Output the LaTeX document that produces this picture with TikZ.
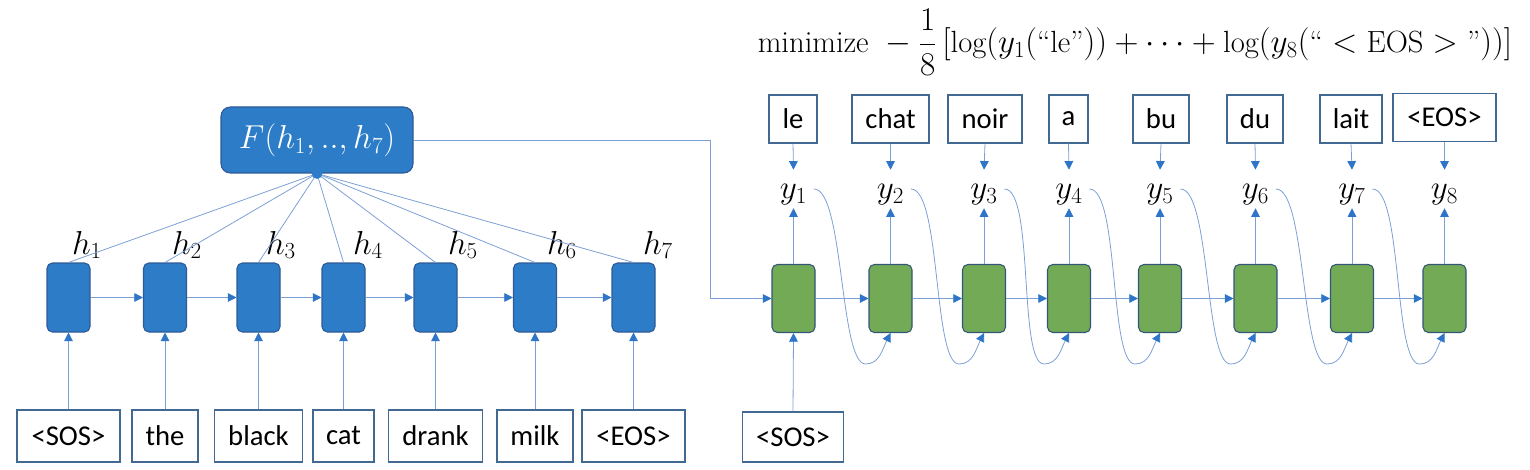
\documentclass[tikz,border=0pt]{standalone}
\usepackage{fontspec}
\usepackage{amsmath}
\newfontfamily\calibri{Carlito}
\usetikzlibrary{arrows.meta,calc}
\definecolor{encfill}{RGB}{44,124,200}
\definecolor{encdraw}{RGB}{46,90,150}
\definecolor{decfill}{RGB}{114,170,86}
\definecolor{decdraw}{RGB}{50,85,120}
\definecolor{linec}{RGB}{125,160,212}
\definecolor{tipc}{RGB}{46,117,200}
\definecolor{wordc}{RGB}{65,105,145}
\begin{document}
\begin{tikzpicture}[x=0.75pt,y=-0.75pt,
  enc/.style={draw=encdraw, fill=encfill, rounded corners=4pt, minimum width=32.25pt, minimum height=51.75pt, inner sep=0pt, line width=0.8pt},
  dec/.style={draw=decdraw, fill=decfill, rounded corners=4pt, minimum width=32.25pt, minimum height=51pt, inner sep=0pt, line width=0.8pt},
  wbox/.style={draw=wordc, fill=white, line width=0.8pt, minimum width=#1, minimum height=39pt, inner sep=0pt, font=\calibri\fontsize{21.5}{25}\selectfont},
  tbox/.style={wbox=#1, minimum height=36pt},
  hlab/.style={anchor=base, inner sep=0pt, font=\fontsize{23}{27}\selectfont},
  ylab/.style={anchor=base, inner sep=0pt, text height=21.75pt, text depth=6.75pt, font=\fontsize{24}{28}\selectfont},
  conn/.style={draw=linec, line width=0.6pt},
  flow/.style={conn, -{Triangle[length=6.5pt,width=6.5pt,color=tipc]}},
]
\useasboundingbox (0,0) rectangle (1530,470);

% loss formula
\node[inner sep=0pt, font=\fontsize{23}{27}\selectfont] (loss) at (1135,42)
  {$\text{minimize}\; -\dfrac{1}{8}\,[\log(y_1(\text{“le”})) + \cdots + \log(y_8(\text{“}<\mathrm{EOS}>\text{”}))]$};

% encoder
\foreach \i/\x in {1/68.5,2/165,3/258.5,4/343.5,5/435.5,6/535,7/633.5}
  \node[enc] (e\i) at (\x,297.5) {};

\node[wbox=77.25pt] (w1) at (68.5,436) {<SOS>};
\node[wbox=49.5pt]  (w2) at (165,436) {the};
\node[wbox=66pt]    (w3) at (258.5,436) {black};
\node[wbox=45.75pt] (w4) at (343.5,436) {cat};
\node[wbox=70.5pt]  (w5) at (435.5,436) {drank};
\node[wbox=57pt]    (w6) at (535,436) {milk};
\node[wbox=77.25pt] (w7) at (633.5,436) {<EOS>};

\foreach \i in {1,...,7} \draw[flow] (w\i.north) -- (e\i.south);
\foreach \i/\j in {1/2,2/3,3/4,4/5,5/6,6/7} \draw[flow] (e\i.east) -- (e\j.west);

\foreach \i/\x in {1/87,2/187,3/281,4/368,5/463,6/562,7/658}
  \node[hlab] (h\i) at (\x,254) {$h_{\i}$};

% F box
\node[draw=encdraw, fill=encfill, rounded corners=7pt, line width=0.8pt, minimum width=144pt, minimum height=49.5pt, inner sep=0pt, text=white, font=\fontsize{24}{28}\selectfont] (F) at (317,140) {$F(h_1,..,h_7)$};
\foreach \i in {1,...,7} \draw[conn] (F.south) -- (e\i.north);
\fill[encfill] (F.south) circle (4pt);

% decoder
\foreach \i/\x in {1/793.5,2/890.5,3/984,4/1069,5/1160,6/1255.5,7/1352,8/1444.5}
  \node[dec] (g\i) at (\x,298.5) {};

\coordinate (turn) at (710,298.5);
\draw[flow] (F.east) -| (turn) -- (g1.west);

\node[wbox=75.75pt, minimum height=37.5pt] (s0) at (793,437) {<SOS>};
\draw[flow] (s0.north) -- (g1.south);

\foreach \i/\j in {1/2,2/3,3/4,4/5,5/6,6/7,7/8} \draw[flow] (g\i.east) -- (g\j.west);

\node[tbox=36pt]    (t1) at (793,119) {le};
\node[tbox=57.75pt] (t2) at (890.5,119) {chat};
\node[tbox=55.5pt]  (t3) at (985,119) {noir};
\node[tbox=29.25pt] (t4) at (1068.5,119) {a};
\node[tbox=42pt]    (t5) at (1161,119) {bu};
\node[tbox=42pt]    (t6) at (1255,119) {du};
\node[tbox=46.5pt]  (t7) at (1351,119) {lait};
\node[tbox=77.25pt] (t8) at (1444.5,117.5) {<EOS>};

\foreach \i/\x in {1/793.5,2/890.5,3/984,4/1069,5/1160,6/1255.5,7/1352,8/1444.5}
  \node[ylab] (y\i) at (\x,199) {$y_{\i}$};

\foreach \i in {1,...,8} {
  \draw[flow] (t\i.south) -- (y\i.north);
  \draw[flow] (g\i.north) -- (y\i.south);
}

% feedback loops
\foreach \i/\j in {1/2,2/3,3/4,4/5,5/6,6/7,7/8} {
  \coordinate (s\i) at ([xshift=5pt]y\i.east);
  \coordinate (m\i) at ($(g\j.south)+(-25,31)$);
  \draw[flow] (s\i) .. controls ($(s\i)+(30,0)$) and ($(m\i)+(-26,0)$) .. (m\i)
     .. controls ($(m\i)+(14,0)$) and ($(g\j.south)+(-8,16)$) .. (g\j.south);
}
\end{tikzpicture}
\end{document}
